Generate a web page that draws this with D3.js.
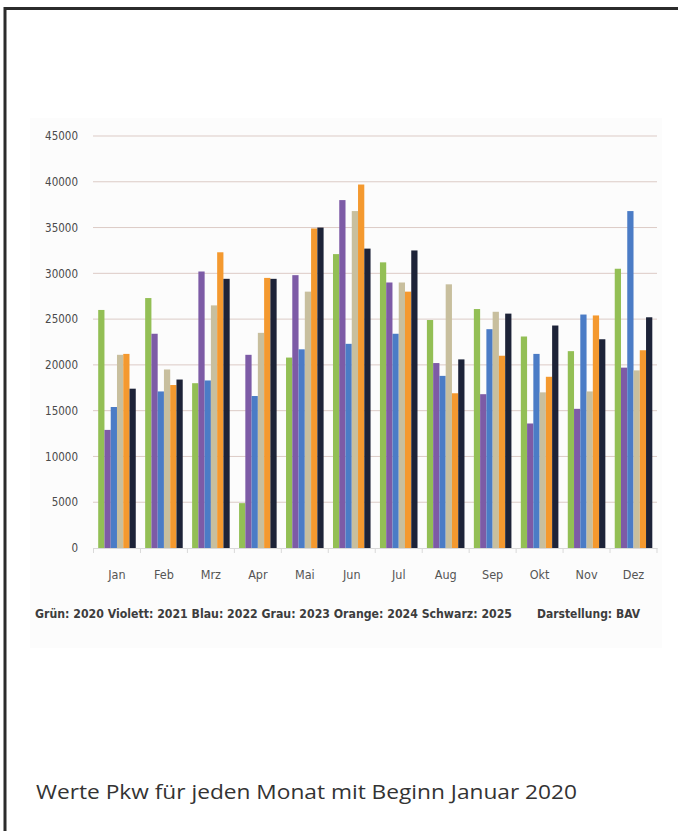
<!DOCTYPE html>
<html>
<head>
<meta charset="utf-8">
<script src="https://cdn.jsdelivr.net/npm/d3@7"></script>
<style>
  html, body { margin: 0; padding: 0; background: #fff; overflow: hidden; }
  svg { display: block; }
</style>
</head>
<body>
<div id="chart"></div>
<script>
// données
const months = ["Jan", "Feb", "Mrz", "Apr", "Mai", "Jun", "Jul", "Aug", "Sep", "Okt", "Nov", "Dez"];
const years = ["2020", "2021", "2022", "2023", "2024", "2025"];
const v2020 = [26000, 27300, 18000, 4900, 20800, 32100, 31200, 24900, 26100, 23100, 21500, 30500];
const v2021 = [12900, 23400, 30200, 21100, 29800, 38000, 29000, 20200, 16800, 13600, 15200, 19700];
const v2022 = [15400, 17100, 18300, 16600, 21700, 22300, 23400, 18800, 23900, 21200, 25500, 36800];
const v2023 = [21100, 19500, 26500, 23500, 28000, 36800, 29000, 28800, 25800, 17000, 17100, 19400];
const v2024 = [21200, 17800, 32300, 29500, 34900, 39700, 28000, 16900, 21000, 18700, 25400, 21600];
const v2025 = [17400, 18400, 29400, 29400, 35000, 32700, 32500, 20600, 25600, 24300, 22800, 25200];
const yTicks = [0, 5000, 10000, 15000, 20000, 25000, 30000, 35000, 40000, 45000];
const colors = ["#93bf55", "#7d5ba6", "#4b7cc6", "#c8bf9e", "#f4992f", "#1d2338"];
const legendText = "Grün: 2020 Violett: 2021 Blau: 2022 Grau: 2023 Orange: 2024 Schwarz: 2025";
const creditText = "Darstellung: BAV";
const caption = "Werte Pkw für jeden Monat mit Beginn Januar 2020";

const series = [v2020, v2021, v2022, v2023, v2024, v2025];

const width = 678, height = 831;
const condensed = "'Liberation Sans Narrow', 'DejaVu Sans Condensed', 'Open Sans', sans-serif";

const svg = d3.select("#chart").append("svg")
    .attr("width", width)
    .attr("height", height);

// cadre (seulement haut et gauche visibles)
svg.append("path")
    .attr("d", "M5," + height + " V8.5 H" + width)
    .style("fill", "none")
    .style("stroke", "#2b2b2b")
    .style("stroke-width", 3);

// fond de l'image du graphique
svg.append("rect")
    .attr("x", 30).attr("y", 118)
    .attr("width", 632).attr("height", 530)
    .style("fill", "#fcfcfc");

const x = d3.scaleBand()
    .domain(months)
    .range([93.5, 657])
    .paddingInner(0.2)
    .paddingOuter(0.1);

const xs = d3.scaleBand()
    .domain(years)
    .range([0, x.bandwidth()]);

const y = d3.scaleLinear()
    .domain([0, 45000])
    .range([548, 136]);

// grille
svg.append("g")
    .selectAll("line")
    .data(yTicks.filter(d => d > 0))
    .enter().append("line")
    .attr("x1", 93).attr("x2", 657)
    .attr("y1", d => y(d)).attr("y2", d => y(d))
    .style("stroke", "#dccbc6")
    .style("stroke-width", 1);

// axe y
const yAxis = svg.append("g")
    .attr("transform", "translate(78,0)")
    .call(d3.axisLeft(y).tickValues(yTicks).tickSize(0).tickPadding(0).tickFormat(d3.format("d")));
yAxis.select(".domain").remove();
yAxis.selectAll("text")
    .style("font-family", condensed)
    .style("font-size", "11.5px")
    .style("fill", "#4a4a4a");

// barres
const groups = svg.append("g")
    .selectAll("g")
    .data(months)
    .enter().append("g")
    .attr("transform", d => "translate(" + x(d) + ",0)");

groups.selectAll("rect")
    .data((m, i) => years.map((yr, j) => ({ year: yr, value: series[j][i], color: colors[j] })))
    .enter().append("rect")
    .attr("x", d => xs(d.year))
    .attr("width", xs.bandwidth())
    .attr("y", d => y(d.value))
    .attr("height", d => y(0) - y(d.value))
    .style("fill", d => d.color);

// axe x
const xAxis = svg.append("g")
    .attr("transform", "translate(0," + y(0) + ")")
    .call(d3.axisBottom(x).tickSize(0).tickPadding(22));
xAxis.select(".domain")
    .style("stroke", "#d9d9d9");
xAxis.selectAll("text")
    .style("font-family", condensed)
    .style("font-size", "12.5px")
    .style("fill", "#555");

// graduations entre les mois
const step = x.step();
svg.append("g")
    .selectAll("line")
    .data(d3.range(months.length + 1))
    .enter().append("line")
    .attr("x1", i => 93.5 + i * step).attr("x2", i => 93.5 + i * step)
    .attr("y1", y(0)).attr("y2", y(0) + 5)
    .style("stroke", "#d9d9d9");

// légende
svg.append("text")
    .attr("x", 35).attr("y", 618)
    .attr("textLength", 477)
    .attr("lengthAdjust", "spacingAndGlyphs")
    .style("font-family", condensed)
    .style("font-size", "12.5px")
    .style("font-weight", "bold")
    .style("fill", "#3d3d3d")
    .text(legendText);

svg.append("text")
    .attr("x", 537).attr("y", 618)
    .attr("textLength", 103)
    .attr("lengthAdjust", "spacingAndGlyphs")
    .style("font-family", condensed)
    .style("font-size", "12.5px")
    .style("font-weight", "bold")
    .style("fill", "#3d3d3d")
    .text(creditText);

// légende sous l'image
svg.append("text")
    .attr("x", 36).attr("y", 799)
    .attr("textLength", 541)
    .attr("lengthAdjust", "spacingAndGlyphs")
    .style("font-family", "'Open Sans', sans-serif")
    .style("font-size", "20px")
    .style("fill", "#333")
    .text(caption);
</script>
</body>
</html>
